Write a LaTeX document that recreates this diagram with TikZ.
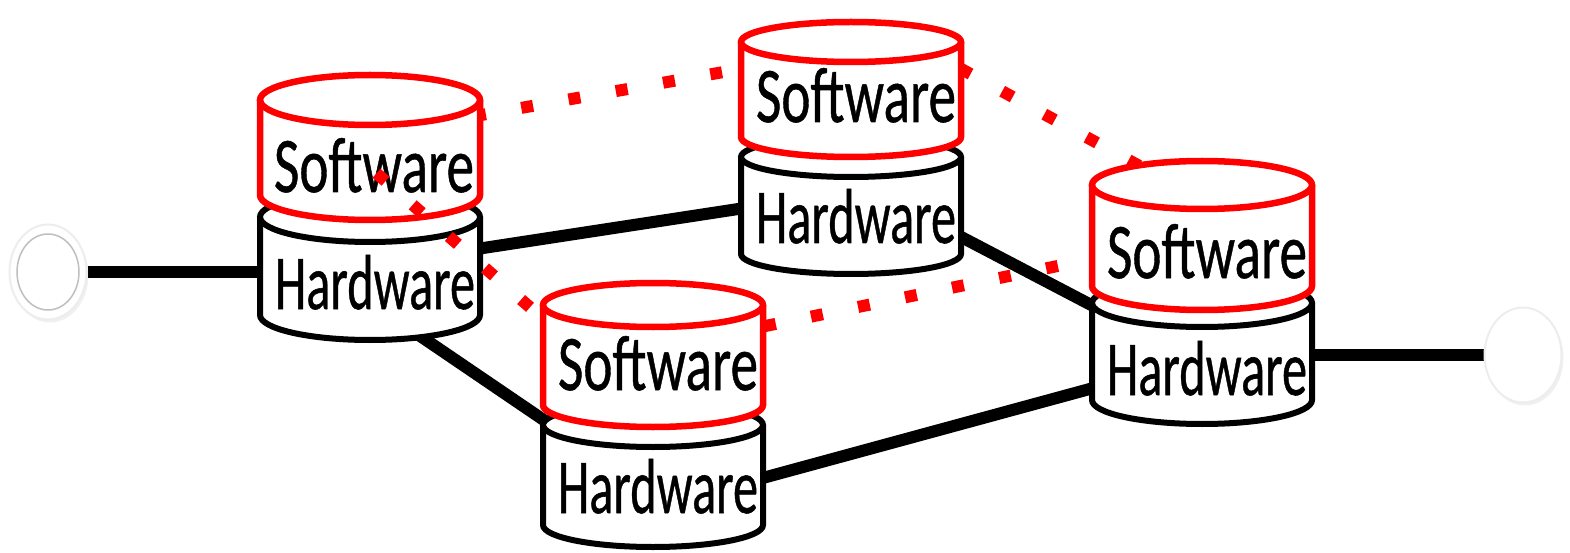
\documentclass[tikz,border=0pt]{standalone}
\usepackage{fontspec}
\setmainfont{Carlito}
\newfontfamily\lblfont[FakeBold=0.7]{Carlito}
\usepackage{graphicx}
\usetikzlibrary{calc,shapes.geometric,shadows,backgrounds}

\tikzset{every picture/.style={line width=0.75pt}}
\tikzset{
  swcyl/.style={draw={rgb, 255:red, 255; green, 0; blue, 0 }, line width=6.5pt},
  hwcyl/.style={draw={rgb, 255:red, 0; green, 0; blue, 0 }, line width=6pt},
  lbl/.style={anchor=base, inner sep=0pt, font=\lblfont},
  wire/.style={line width=12pt},
  dotlink/.style={draw={rgb, 255:red, 255; green, 0; blue, 0 }, line width=12pt, dash pattern=on 12pt off 36pt},
  endpt/.style={ellipse, minimum width=77pt, minimum height=95pt, inner sep=0pt, fill=white, draw=black!7, line width=2pt,
    drop shadow={opacity=0.12, shadow xshift=2pt, shadow yshift=-3pt}}
}

% can: #1 style, #2 centre x, #3 y of top ellipse, #4 height, #5 y radius
\newcommand{\cylinder}[5]{%
  \fill [white] (#2-110,#3) arc [start angle=180, end angle=360, x radius=110, y radius=#5] -- ++(0,#4) arc [start angle=0, end angle=180, x radius=110, y radius=#5] -- cycle ;
  \draw [#1] (#2,#3) ellipse [x radius=110, y radius=#5] ;
  \draw [#1] (#2-110,#3) -- ++(0,#4) arc [start angle=180, end angle=0, x radius=110, y radius=#5] -- ++(0,-#4) ;
}
\newcommand{\fitword}[1]{\resizebox{200pt}{54pt}{#1}}

\begin{document}
\begin{tikzpicture}[x=1pt,y=1pt,yscale=-1,xscale=1]
\useasboundingbox (0,0) rectangle (1570,553);

%Shape: Can [left stack]
\cylinder{hwcyl}{370}{217}{98}{25}
\cylinder{swcyl}{370}{100}{95}{25}
%Shape: Can [top stack]
\cylinder{hwcyl}{851}{157}{97}{20}
\cylinder{swcyl}{851}{42}{95}{20}
%Shape: Can [bottom stack]
\cylinder{hwcyl}{653}{425}{100}{22}
\cylinder{swcyl}{653}{305}{100}{22}
%Shape: Can [right stack]
\cylinder{hwcyl}{1202}{303}{97}{24}
\cylinder{swcyl}{1202}{185}{101}{24}

% Text Node
\draw (374,192) node [lbl] (sw1) {\fitword{Software}};
% Text Node
\draw (375,309) node [lbl] (hw1) {\fitword{Hardware}};
% Text Node
\draw (856,122) node [lbl] (sw2) {\fitword{Software}};
% Text Node
\draw (856,243) node [lbl] (hw2) {\fitword{Hardware}};
% Text Node
\draw (658,390) node [lbl] (sw3) {\fitword{Software}};
% Text Node
\draw (658,513) node [lbl] (hw3) {\fitword{Hardware}};
% Text Node
\draw (1207,278) node [lbl] (sw4) {\fitword{Software}};
% Text Node
\draw (1207,395) node [lbl] (hw4) {\fitword{Hardware}};

%Shape: Ellipse [in]
\draw (48,272) node [endpt] (inL) {};
\draw [black!25, line width=1.5] (inL) ellipse [x radius=31, y radius=38];
%Shape: Ellipse [out]
\draw (1523,355) node [endpt] (outR) {};

\begin{pgfonlayer}{background}
%Straight Lines
\draw [wire] (inL) -- (inL -| hw1);
\draw [wire] ($(hw1)+(100,-33)$) -- ($(hw2)+(-100,-10)$);
\draw [wire] ($(hw1)+(0,23)$) -- ($(hw3)+(-58,-28)$);
\draw [wire] ($(hw2)+(100,18)$) -- ($(hw4)+(-100,-55)$);
\draw [wire] ($(hw3)+(100,-7)$) -- ($(hw4)+(-100,16)$);
\draw [wire] (outR -| hw4) -- (outR);
%Dotted Lines
\draw [dotlink] ($(sw1)+(100,-49)$) -- ($(sw2)+(-134,-23)$);
\draw [dotlink] ($(sw2)+(104,-27)$) -- ($(sw4)+(-67,-85)$);
\draw [dotlink] ($(sw3)+(106,-37)$) -- ($(sw4)+(-102,5)$);
\end{pgfonlayer}

%Dotted Lines
\draw [dotlink] ($(sw1)+(2.5,8)$) -- ($(sw3)+(-128,-56)$);

\end{tikzpicture}
\end{document}
